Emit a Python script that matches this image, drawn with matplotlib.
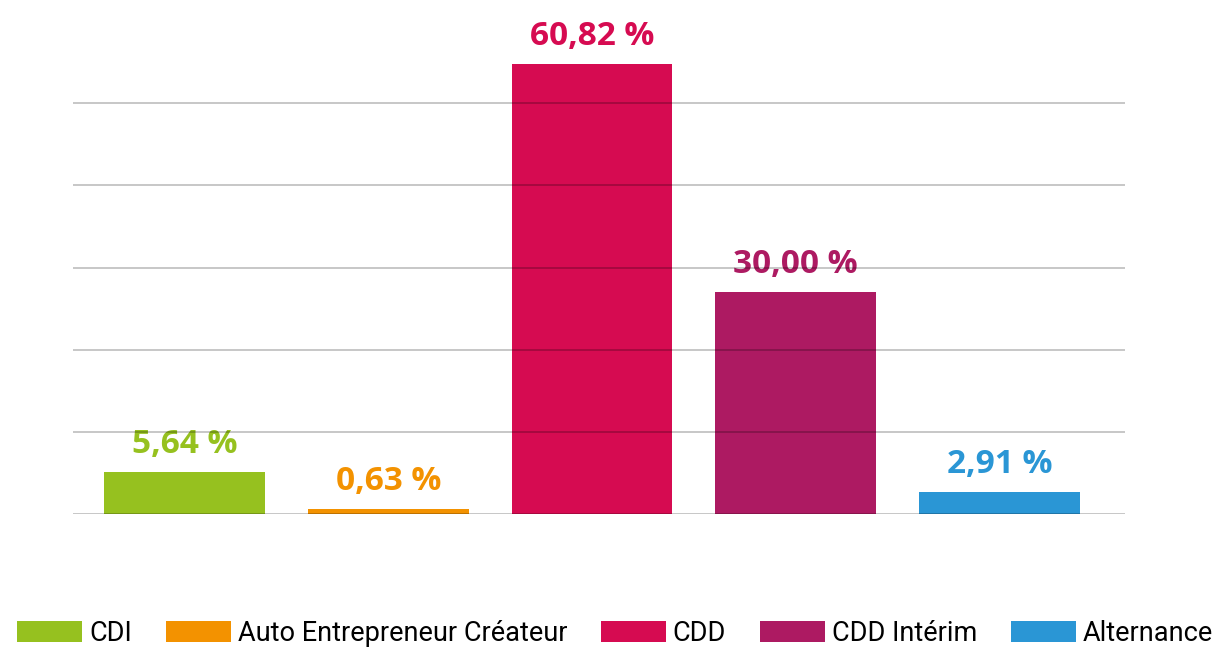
import numpy as np
import matplotlib.pyplot as plt
from matplotlib.patches import Patch

categories = ["CDI", "Auto Entrepreneur Créateur", "CDD", "CDD Intérim", "Alternance"]
values = [5.64, 0.63, 60.82, 30.00, 2.91]
labels = ["5,64 %", "0,63 %", "60,82 %", "30,00 %", "2,91 %"]
colors = ["#96C11F", "#F39200", "#D60B51", "#AD1A62", "#2A96D5"]
grid_levels = [0, 11.1, 22.2, 33.3, 44.4, 55.5]

fig = plt.figure(figsize=(12.18, 6.55), dpi=100)
ax = fig.add_axes([73 / 1218, 141 / 655, 1052 / 1218, 494 / 655])

x = np.arange(len(categories))
ax.bar(x, values, width=0.79, color=colors, zorder=2)

for xi, v, lab, c in zip(x, values, labels, colors):
    ax.annotate(lab, (xi, v), xytext=(0, 8), textcoords="offset points",
                ha="center", va="bottom", color=c, fontsize=24,
                fontweight="bold", family="Open Sans")

for g in grid_levels:
    ax.axhline(g, color="black", alpha=0.28, lw=1.1, zorder=3)

ax.set_xlim(-0.548, 4.617)
ax.set_ylim(0, 494 / 7.4)
ax.axis("off")

handles = [Patch(facecolor=c, edgecolor="none") for c in colors]
fig.legend(handles, categories, loc="lower center", bbox_to_anchor=(0.505, -0.025),
           ncol=5, frameon=False, handlelength=2.4, handleheight=0.85,
           handletextpad=0.25, columnspacing=1.25,
           prop={"family": "Roboto", "size": 19.5})

fig.savefig("out.png", dpi=100)
